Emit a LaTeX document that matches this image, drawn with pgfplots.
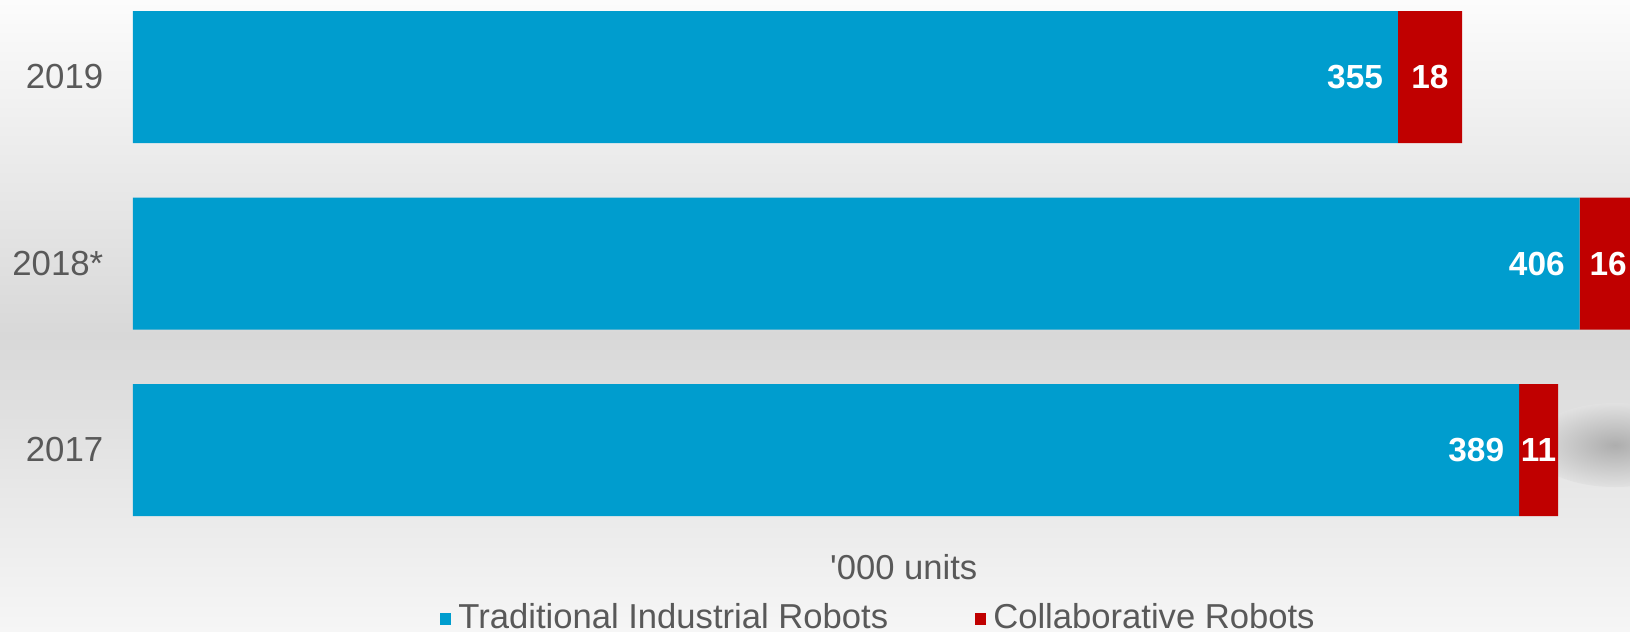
\documentclass[border=0pt]{standalone}
\usepackage{pgfplots}
\pgfplotsset{compat=1.18}
\usepackage{fontspec}
\setmainfont{Liberation Sans}
\definecolor{tradblue}{RGB}{0,157,206}
\definecolor{cobotred}{RGB}{192,0,0}
\definecolor{labelgray}{RGB}{89,89,89}
\definecolor{bgmid}{RGB}{216,216,216}
\definecolor{bgtop}{RGB}{252,252,252}
\definecolor{bgbot}{RGB}{246,246,246}
\definecolor{shadowbg}{RGB}{225,225,225}
\begin{document}
\begin{tikzpicture}
\path[use as bounding box] (0,0) rectangle (16.3,6.31);
% background gradient
\shade[top color=bgtop, bottom color=bgmid] (0,2.95) rectangle (16.3,6.31);
\shade[top color=bgmid, bottom color=bgbot] (0,0) rectangle (16.3,2.96);
% soft shadow right of the 2017 bar
\shade[inner color=black!32, outer color=shadowbg] (16.15,1.86) ellipse (0.85cm and 0.42cm);
\begin{axis}[
    at={(1.33cm,0cm)}, anchor=south west,
    scale only axis,
    width=15.054cm, height=6.31cm,
    xbar stacked,
    bar width=1.32cm,
    xmin=0, xmax=422.5,
    ymin=-0.9705, ymax=2.4129,
    axis line style={draw=none},
    tick style={draw=none},
    xtick=\empty,
    ytick={0,1,2},
    yticklabels={2017,2018*,2019},
    yticklabel style={font=\fontsize{9.9}{12}\selectfont, text=labelgray, inner sep=0pt, xshift=-0.29cm},
    point meta=explicit symbolic,
    nodes near coords={\pgfplotspointmeta},
    legend style={
        at={(0.4969,0.019)}, anchor=center,
        draw=none, fill=none,
        legend columns=2,
        font=\fontsize{9.85}{12}\selectfont,
        text=labelgray,
        /tikz/every even column/.append style={column sep=0.8cm},
    },
    legend image code/.code={\fill[#1] (0cm,-0.06cm) rectangle (0.11cm,0.065cm);},
]
\addplot[fill=tradblue, draw=none,
    visualization depends on={rawx \as \segw},
    every node near coord/.style={anchor=east, xshift={0.5*\segw*0.03563cm-0.025cm}, text=white,
        font=\fontsize{9.5}{11}\selectfont\bfseries}]
    coordinates {(389,0) [389] (406,1) [406] (355,2) [355]};
\addlegendentry{Traditional Industrial Robots}
\addplot[fill=cobotred, draw=none,
    every node near coord/.style={anchor=center, text=white,
        font=\fontsize{9.5}{11}\selectfont\bfseries}]
    coordinates {(11,0) [11] (16,1) [16] (18,2) [18]};
\addlegendentry{Collaborative Robots}
\node[font=\fontsize{9.85}{12}\selectfont, text=labelgray] at (rel axis cs:0.512,0.101) {\textquotesingle000 units};
\end{axis}
\end{tikzpicture}
\end{document}
